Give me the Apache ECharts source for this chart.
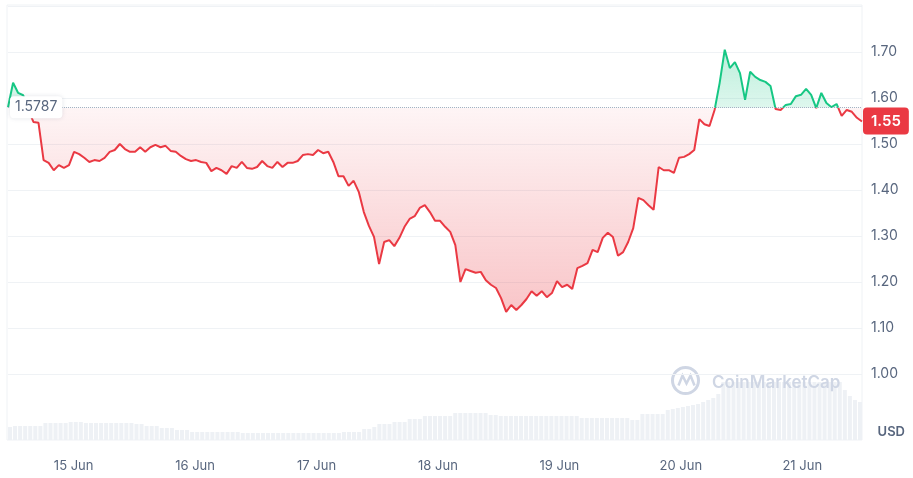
<!DOCTYPE html>
<html>
<head>
<meta charset="utf-8">
<script src="https://cdn.jsdelivr.net/npm/echarts@6/dist/echarts.min.js"></script>
<style>
  html, body { margin: 0; padding: 0; background: #fff; }
  #chart { width: 913px; height: 478px; }
</style>
</head>
<body>
<div id="chart"></div>
<script>
// hourly samples, first one at 14 Jun 11:25
var startTime = new Date(2024, 5, 14, 11, 25).getTime()
var stepMs = 3600 * 1000

var baseline = 1.5787

var prices = [
  1.580, 1.633, 1.611, 1.606, 1.574, 1.548, 1.546, 1.465, 1.459, 1.443,
  1.454, 1.448, 1.454, 1.483, 1.478, 1.470, 1.461, 1.465, 1.463, 1.470,
  1.483, 1.487, 1.500, 1.489, 1.483, 1.483, 1.493, 1.483, 1.493, 1.498,
  1.493, 1.496, 1.485, 1.483, 1.474, 1.467, 1.463, 1.465, 1.461, 1.459,
  1.441, 1.448, 1.443, 1.435, 1.452, 1.448, 1.461, 1.448, 1.446, 1.450,
  1.463, 1.452, 1.448, 1.461, 1.450, 1.459, 1.459, 1.463, 1.476, 1.478,
  1.476, 1.487, 1.480, 1.483, 1.461, 1.430, 1.430, 1.409, 1.420, 1.396,
  1.352, 1.322, 1.298, 1.239, 1.287, 1.291, 1.278, 1.296, 1.320, 1.337,
  1.343, 1.361, 1.367, 1.352, 1.333, 1.333, 1.320, 1.309, 1.280, 1.200,
  1.228, 1.224, 1.220, 1.222, 1.204, 1.194, 1.187, 1.165, 1.135, 1.150,
  1.139, 1.150, 1.163, 1.180, 1.170, 1.180, 1.167, 1.176, 1.202, 1.189,
  1.194, 1.185, 1.230, 1.235, 1.241, 1.270, 1.265, 1.296, 1.307, 1.298,
  1.257, 1.265, 1.287, 1.317, 1.383, 1.378, 1.367, 1.357, 1.450, 1.443,
  1.443, 1.437, 1.470, 1.472, 1.478, 1.487, 1.554, 1.543, 1.539, 1.574,
  1.633, 1.705, 1.665, 1.678, 1.654, 1.596, 1.657, 1.646, 1.639, 1.635,
  1.626, 1.576, 1.574, 1.585, 1.587, 1.604, 1.607, 1.620, 1.607, 1.578,
  1.611, 1.589, 1.580, 1.587, 1.561, 1.574, 1.570, 1.557, 1.549
]

// volume in millions USD
var volumes = [
  13, 14, 14, 14, 14, 14, 14, 17, 17, 17,
  17, 17, 18, 18, 18, 17, 17, 17, 17, 17,
  17, 17, 17, 17, 17, 16, 16, 14, 14, 14,
  12, 12, 12, 10, 10, 10, 8, 8, 8, 8,
  8, 8, 8, 8, 8, 8, 7, 7, 7, 7,
  7, 7, 7, 7, 7, 7, 7, 7, 7, 7,
  7, 7, 7, 7, 7, 7, 8, 8, 8, 8,
  11, 11, 13, 16, 16, 16, 18, 18, 18, 21,
  21, 21, 24, 24, 24, 24, 24, 24, 27, 27,
  27, 27, 27, 27, 27, 25, 25, 24, 24, 24,
  24, 24, 24, 24, 24, 24, 24, 24, 24, 24,
  24, 24, 24, 22, 22, 22, 22, 22, 22, 22,
  22, 22, 22, 20, 20, 26, 26, 26, 26, 26,
  30, 31, 32, 33, 34, 35, 36, 38, 40, 42,
  46, 58, 58, 58, 58, 58, 58, 58, 58, 58,
  58, 58, 58, 58, 58, 58, 58, 58, 58, 58,
  58, 58, 58, 58, 58, 50, 44, 40, 38
]

var priceTicks = [1.0, 1.1, 1.2, 1.3, 1.4, 1.5, 1.6, 1.7]

var green = '#16c784'
var red = '#ea3943'

var yMin = 1.0
var yMax = 1.8
var gridTop = 6
var gridBottomY = 374
var baseStop = (yMax - baseline) / (yMax - yMin)

var priceData = []
var volumeData = []
for (var i = 0; i < prices.length; i++) {
  var t = startTime + i * stepMs
  priceData.push([t, prices[i]])
  volumeData.push([t, volumes[i]])
}
var endTime = startTime + (prices.length - 1) * stepMs
var lastPrice = prices[prices.length - 1]

var chart = echarts.init(document.getElementById('chart'))

chart.setOption({
  animation: false,
  textStyle: { fontFamily: 'Inter, "Noto Sans", sans-serif' },
  title: [{
    text: 'USD',
    right: 3,
    top: 421,
    textStyle: { fontSize: 13, fontWeight: 600, color: '#58667e' }
  }, {
    text: 'CoinMarketCap',
    left: 707,
    top: 369,
    textStyle: { fontSize: 17, fontWeight: 600, color: '#cfd6e4' }
  }],
  graphic: [{
    type: 'circle',
    left: 670,
    top: 365,
    shape: { r: 13 },
    style: { fill: 'none', stroke: '#cfd6e4', lineWidth: 3 }
  }, {
    type: 'polyline',
    left: 676,
    top: 373,
    shape: { points: [[0, 12], [4, 2], [8, 10], [12, 2], [16, 12]] },
    style: { fill: 'none', stroke: '#cfd6e4', lineWidth: 2.5 }
  }],
  grid: [{
    left: 8,
    right: 51,
    top: gridTop,
    bottom: 478 - gridBottomY
  }, {
    left: 8,
    right: 51,
    top: 380,
    bottom: 38
  }, {
    left: 7,
    right: 51,
    top: 5,
    bottom: 38,
    show: true,
    backgroundColor: 'transparent',
    borderColor: '#eff2f5',
    borderWidth: 1
  }],
  xAxis: [{
    type: 'time',
    gridIndex: 0,
    min: startTime,
    max: endTime,
    axisLine: { show: false },
    axisTick: { show: false },
    axisLabel: { show: false },
    splitLine: { show: false }
  }, {
    type: 'time',
    gridIndex: 1,
    min: startTime,
    max: endTime,
    minInterval: 24 * 3600 * 1000,
    maxInterval: 24 * 3600 * 1000,
    axisLine: { show: false },
    axisTick: { show: false },
    splitLine: { show: false },
    axisLabel: {
      margin: 20,
      fontSize: 13,
      color: '#58667e',
      hideOverlap: false,
      formatter: '{d} {MMM}'
    }
  }],
  yAxis: [{
    type: 'value',
    gridIndex: 0,
    position: 'right',
    min: yMin,
    max: yMax,
    interval: 0.1,
    axisLine: { show: false },
    axisTick: { show: false },
    axisLabel: {
      margin: 9,
      fontSize: 14,
      color: '#58667e',
      formatter: function (v) {
        for (var k = 0; k < priceTicks.length; k++) {
          if (Math.abs(priceTicks[k] - v) < 1e-6) return v.toFixed(2)
        }
        return ''
      }
    },
    splitLine: { lineStyle: { color: '#eff2f5', width: 1 } }
  }, {
    type: 'value',
    gridIndex: 1,
    min: 0,
    max: 60,
    show: false
  }],
  series: [{
    name: 'Volume',
    type: 'bar',
    xAxisIndex: 1,
    yAxisIndex: 1,
    barWidth: 4,
    itemStyle: { color: '#eef1f5' },
    data: volumeData,
    silent: true
  }, {
    name: 'Price',
    type: 'line',
    xAxisIndex: 0,
    yAxisIndex: 0,
    showSymbol: false,
    symbol: 'none',
    data: priceData,
    lineStyle: {
      width: 2,
      color: new echarts.graphic.LinearGradient(0, gridTop, 0, gridBottomY, [
        { offset: 0, color: green },
        { offset: baseStop, color: green },
        { offset: baseStop, color: red },
        { offset: 1, color: red }
      ], true)
    },
    areaStyle: {
      origin: baseline,
      color: new echarts.graphic.LinearGradient(0, gridTop, 0, gridBottomY, [
        { offset: 0, color: 'rgba(22,199,132,0.40)' },
        { offset: baseStop, color: 'rgba(22,199,132,0.14)' },
        { offset: baseStop, color: 'rgba(234,57,67,0.05)' },
        { offset: 0.9, color: 'rgba(234,57,67,0.32)' },
        { offset: 1, color: 'rgba(234,57,67,0.35)' }
      ], true),
      opacity: 1
    },
    markLine: {
      silent: true,
      symbol: ['none', 'none'],
      data: [{
        yAxis: baseline,
        lineStyle: { type: 'dotted', color: '#a6b0c3', width: 1 },
        label: {
          show: true,
          position: 'insideStart',
          distance: 0,
          offset: [2, 0],
          verticalAlign: 'middle',
          formatter: baseline.toFixed(4),
          fontSize: 14,
          color: '#58667e',
          backgroundColor: '#fff',
          padding: [4, 5],
          borderRadius: 4,
          shadowColor: 'rgba(88,102,126,0.18)',
          shadowBlur: 4
        }
      }, {
        yAxis: lastPrice,
        lineStyle: { color: 'rgba(0,0,0,0)', width: 0 },
        label: {
          show: true,
          position: 'end',
          distance: 1,
          formatter: lastPrice.toFixed(2),
          fontSize: 15,
          fontWeight: 600,
          color: '#fff',
          backgroundColor: red,
          padding: [6, 8],
          borderRadius: 4
        }
      }]
    }
  }]
})
</script>
</body>
</html>
